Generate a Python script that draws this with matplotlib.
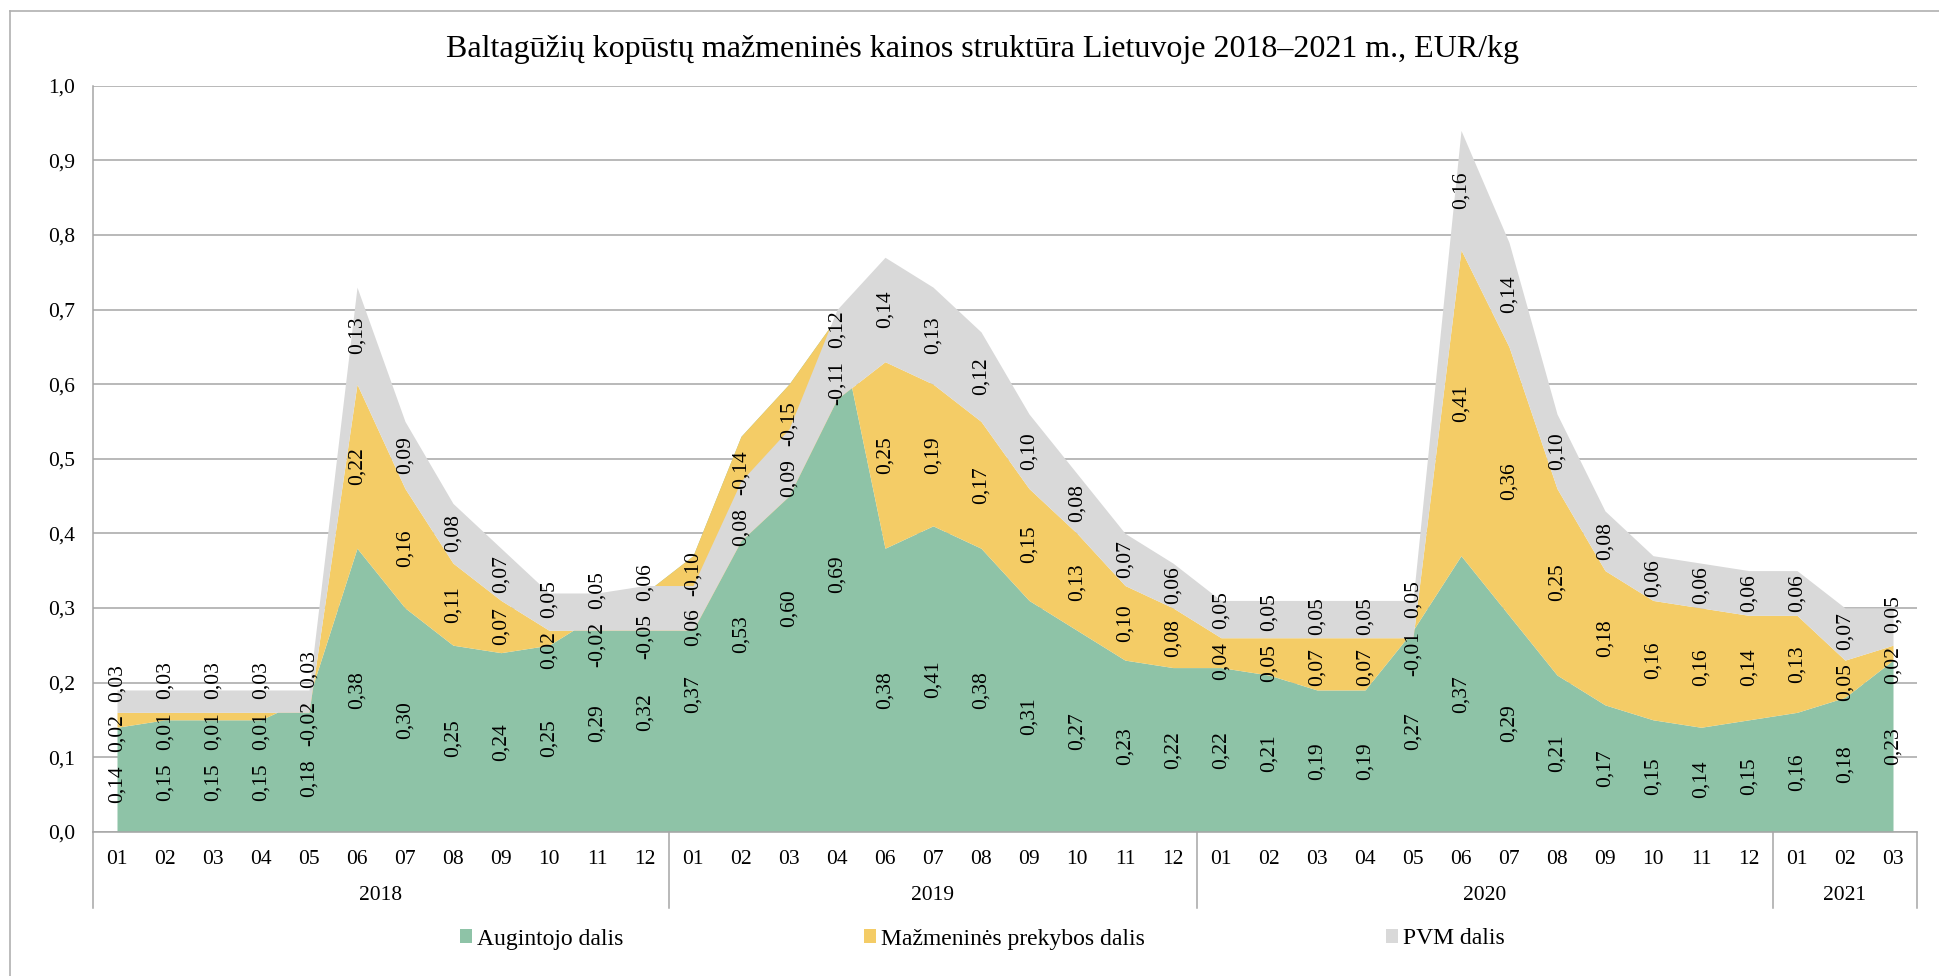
import numpy as np
import matplotlib
matplotlib.use("Agg")
import matplotlib.pyplot as plt
from matplotlib.patches import Patch
from matplotlib.lines import Line2D

# ---- data -----------------------------------------------------------------
years = ["2018", "2019", "2020", "2021"]
months_2018 = ["01", "02", "03", "04", "05", "06", "07", "08", "09", "10", "11", "12"]
months_2019 = ["01", "02", "03", "04", "06", "07", "08", "09", "10", "11", "12"]
months_2020 = ["01", "02", "03", "04", "05", "06", "07", "08", "09", "10", "11", "12"]
months_2021 = ["01", "02", "03"]

# grower share, EUR/kg
grower = [0.14, 0.15, 0.15, 0.15, 0.18, 0.38, 0.30, 0.25, 0.24, 0.25, 0.29, 0.32,
          0.37, 0.53, 0.60, 0.69, 0.38, 0.41, 0.38, 0.31, 0.27, 0.23, 0.22,
          0.22, 0.21, 0.19, 0.19, 0.27, 0.37, 0.29, 0.21, 0.17, 0.15, 0.14, 0.15,
          0.16, 0.18, 0.23]
# retail trade share, EUR/kg
retail = [0.02, 0.01, 0.01, 0.01, -0.02, 0.22, 0.16, 0.11, 0.07, 0.02, -0.02, -0.05,
          -0.10, -0.14, -0.15, -0.11, 0.25, 0.19, 0.17, 0.15, 0.13, 0.10, 0.08,
          0.04, 0.05, 0.07, 0.07, -0.01, 0.41, 0.36, 0.25, 0.18, 0.16, 0.16, 0.14,
          0.13, 0.05, 0.02]
# VAT share, EUR/kg
vat = [0.03, 0.03, 0.03, 0.03, 0.03, 0.13, 0.09, 0.08, 0.07, 0.05, 0.05, 0.06,
       0.06, 0.08, 0.09, 0.12, 0.14, 0.13, 0.12, 0.10, 0.08, 0.07, 0.06,
       0.05, 0.05, 0.05, 0.05, 0.05, 0.16, 0.14, 0.10, 0.08, 0.06, 0.06, 0.06,
       0.06, 0.07, 0.05]

series_names = ["Augintojo dalis", "Mažmeninės prekybos dalis", "PVM dalis"]
title = "Baltagūžių kopūstų mažmeninės kainos struktūra Lietuvoje 2018–2021 m., EUR/kg"

# ---- style ----------------------------------------------------------------
colors = ["#8EC3A7", "#F4CC66", "#D9D9D9"]
line_gray = "#A6A6A6"
FONT = "Liberation Serif"
FS = 15.5
plt.rcParams["font.family"] = [FONT, "DejaVu Serif"]

W, H = 1939, 976
fig = plt.figure(figsize=(W / 100, H / 100), dpi=100)

ax_left, ax_right, ax_top, ax_bottom = 93, 1917, 85.7, 831.7
ax = fig.add_axes([ax_left / W, 1 - ax_bottom / H,
                   (ax_right - ax_left) / W, (ax_bottom - ax_top) / H])

month_groups = [months_2018, months_2019, months_2020, months_2021]
month_labels = [m for grp in month_groups for m in grp]
n = len(month_labels)
x = np.arange(n)

# stacked areas: each layer fills between the previous cumulative line and its own
layers = [np.array(grower), np.array(retail), np.array(vat)]
base = np.zeros(n)
bounds = []
for vals, col in zip(layers, colors):
    top = base + vals
    ax.fill_between(x, base, top, color=col, lw=0, zorder=2)
    bounds.append((base.copy(), top.copy()))
    base = top

ax.set_xlim(-0.5, n - 0.5)
ax.set_ylim(0, 1.0)

yt = np.round(np.arange(0, 1.01, 0.1), 1)
ax.set_yticks(yt)
ax.set_yticklabels([f"{v:.1f}".replace(".", ",") for v in yt], fontsize=FS)
ax.tick_params(axis="y", length=0, pad=13)
ax.set_xticks(x)
ax.set_xticklabels(month_labels, fontsize=FS)
ax.tick_params(axis="x", length=0, pad=13)

ax.yaxis.grid(True, color=line_gray, lw=1.1)
ax.set_axisbelow(True)
for s in ["top", "right"]:
    ax.spines[s].set_visible(False)
for s in ["left", "bottom"]:
    ax.spines[s].set_color(line_gray)
    ax.spines[s].set_linewidth(1.1)

# year group separators and labels below the month labels
ax_h_px = ax_bottom - ax_top
sep_depth = -(907.6 - ax_bottom) / ax_h_px
year_y = -(895 - ax_bottom) / ax_h_px
trans = ax.get_xaxis_transform()
start = 0
edges = [-0.5]
for yr, grp in zip(years, month_groups):
    end = start + len(grp)
    edges.append(end - 0.5)
    ax.text((start + end - 1) / 2, year_y, yr, transform=trans,
            ha="center", va="center", fontsize=FS)
    start = end
for e in edges:
    ax.add_line(Line2D([e, e], [0, sep_depth], transform=trans, color=line_gray,
                       lw=1.1, clip_on=False))

# value labels, rotated, centred in each band
def fmt(v):
    return f"{v:.2f}".replace(".", ",")

label_texts = []
for i in range(n):
    col = []
    for k, vals in enumerate(layers):
        lo, hi = bounds[k]
        mid = (lo[i] + hi[i]) / 2
        t = ax.text(i, mid, fmt(vals[i]), rotation=90, ha="center", va="center",
                    fontsize=FS, zorder=5, rotation_mode="anchor")
        col.append([t, mid])
    label_texts.append(col)

# spread labels that would collide within the same month
fig.canvas.draw()
renderer = fig.canvas.get_renderer()
px_per_unit = ax_h_px  # y range is 0..1
pad = 13 / px_per_unit
for col in label_texts:
    pos = [c[1] for c in col]
    lens = [c[0].get_window_extent(renderer).height / px_per_unit for c in col]
    order = np.argsort(pos, kind="stable")
    for _ in range(200):
        moved = False
        for a, b in zip(order[:-1], order[1:]):
            need = (lens[a] + lens[b]) / 2 + pad
            gap = pos[b] - pos[a]
            if gap < need - 1e-6:
                d = (need - gap) / 2
                pos[a] -= d
                pos[b] += d
                moved = True
        if not moved:
            break
    for c, p in zip(col, pos):
        c[0].set_y(p)

# title
fig.text(982 / W, 1 - 49 / H, title, ha="center", va="center", fontsize=23)

# legend
handles = [Patch(facecolor=c, edgecolor="none") for c in colors]
fig.legend(handles, series_names, loc="center", ncol=3,
           bbox_to_anchor=(982.5 / W, 1 - 939 / H), frameon=False, fontsize=17,
           handlelength=0.5, handleheight=0.5, handletextpad=0.22,
           columnspacing=10.2)

# chart frame
frame_x = 10 / W
frame_y = 1 - 10.7 / H
fig.add_artist(Line2D([frame_x, frame_x], [0, frame_y], transform=fig.transFigure,
                      color="#B0B0B0", lw=1.2))
fig.add_artist(Line2D([frame_x, 1], [frame_y, frame_y], transform=fig.transFigure,
                      color="#B0B0B0", lw=1.2))

fig.savefig("out.png", dpi=100)
